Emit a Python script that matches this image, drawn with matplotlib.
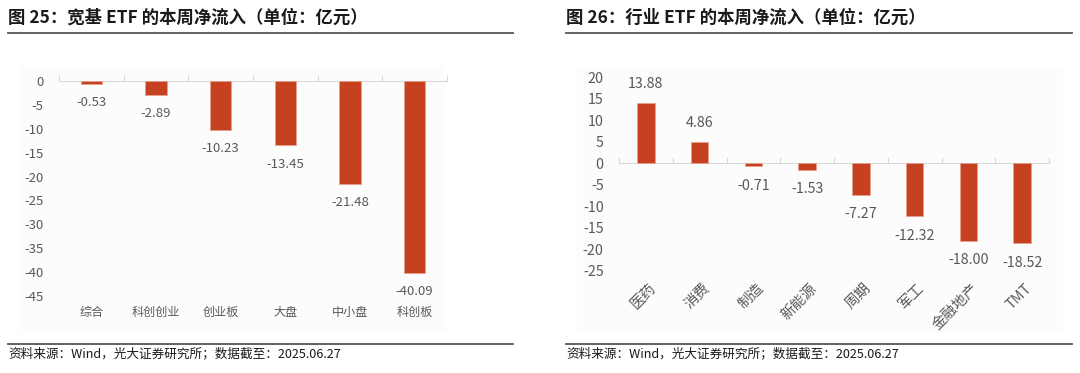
import matplotlib
matplotlib.use("Agg")
import matplotlib.pyplot as plt
import numpy as np
from matplotlib.lines import Line2D
from matplotlib.patches import Rectangle

plt.rcParams["font.family"] = ["Noto Sans CJK SC", "DejaVu Sans"]

# data
broad_cats = ["综合", "科创创业", "创业板", "大盘", "中小盘", "科创板"]
broad_vals = [-0.53, -2.89, -10.23, -13.45, -21.48, -40.09]

ind_cats = ["医药", "消费", "制造", "新能源", "周期", "军工", "金融地产", "TMT"]
ind_vals = [13.88, 4.86, -0.71, -1.53, -7.27, -12.32, -18.00, -18.52]

BAR = "#C5411F"
TXT = "#595959"
W, H = 1080, 373

fig = plt.figure(figsize=(W / 100, H / 100), dpi=100)


def fx(px):
    return px / W


def fy(py):
    return 1 - py / H


def panel(x0, x1, title, bg):
    fig.text(fx(x0), fy(18), title, fontsize=12.5, fontweight="bold",
             color="#1a1a1a", va="center", ha="left")
    fig.add_artist(Line2D([fx(x0), fx(x1)], [fy(33), fy(33)], color="#555555", lw=1.3))
    fig.add_artist(Line2D([fx(x0), fx(x1)], [fy(344), fy(344)], color="#555555", lw=1.3))
    fig.text(fx(x0), fy(354), "资料来源：Wind，光大证券研究所；数据截至：2025.06.27",
             fontsize=9.1, color="#1a1a1a", va="center", ha="left")
    bx0, bx1, by0, by1 = bg
    fig.add_artist(Rectangle((fx(bx0), fy(by1)), fx(bx1 - bx0), (by1 - by0) / H,
                             transform=fig.transFigure, facecolor="#FCFCFC",
                             edgecolor="none", zorder=0))


def bar_chart(ax, cats, vals, ylim, yticks, rotate, label_y, fs):
    x = np.arange(len(cats))
    ax.set_facecolor("none")
    ax.bar(x, vals, width=0.33, color=BAR, edgecolor="#E8A08C", linewidth=0.6, zorder=3)
    ax.set_xlim(-0.5, len(cats) - 0.5)
    ax.set_ylim(*ylim)
    for s in ["top", "right", "left"]:
        ax.spines[s].set_visible(False)
    ax.spines["bottom"].set_position(("data", 0))
    ax.spines["bottom"].set_color("#D9D9D9")
    ax.set_xticks(np.arange(len(cats) + 1) - 0.5)
    ax.set_xticklabels([])
    ax.tick_params(axis="x", direction="in", length=4, color="#D9D9D9")
    ax.set_yticks(yticks)
    ax.set_yticklabels([f"{t:g}" for t in yticks])
    ax.tick_params(axis="y", length=0, pad=11, labelsize=fs, labelcolor=TXT)
    for xi, v in zip(x, vals):
        off = 9 if v >= 0 else -9
        ax.annotate(f"{v:.2f}", (xi, v), xytext=(0, off), textcoords="offset points",
                    ha="center", va="bottom" if v >= 0 else "top",
                    fontsize=fs, color=TXT)
    tr = ax.get_xaxis_transform()
    for xi, c in zip(x, cats):
        if rotate:
            ax.text(xi + 0.05, label_y, c, transform=tr, rotation=45,
                    rotation_mode="anchor", ha="right", va="top",
                    fontsize=10.5, color=TXT)
        else:
            ax.text(xi, label_y, c, transform=tr, ha="center", va="center",
                    fontsize=8.7, color=TXT)


# left chart
panel(8, 513, "图 25：宽基 ETF 的本周净流入（单位：亿元）", (20, 445, 66, 332))
ax1 = fig.add_axes([fx(59), fy(296), fx(447 - 59), (296 - 66.7) / H])
bar_chart(ax1, broad_cats, broad_vals, (-45, 3), list(range(0, -50, -5)), False, -0.07, 9.5)

# right chart
panel(566, 1072, "图 26：行业 ETF 的本周净流入（单位：亿元）", (577, 1063, 66, 333))
ax2 = fig.add_axes([fx(619), fy(271), fx(1049 - 619), (271 - 68.4) / H])
bar_chart(ax2, ind_cats, ind_vals, (-25, 22), list(range(20, -30, -5)), True, -0.05, 10.3)

fig.savefig("out.png", dpi=100)
